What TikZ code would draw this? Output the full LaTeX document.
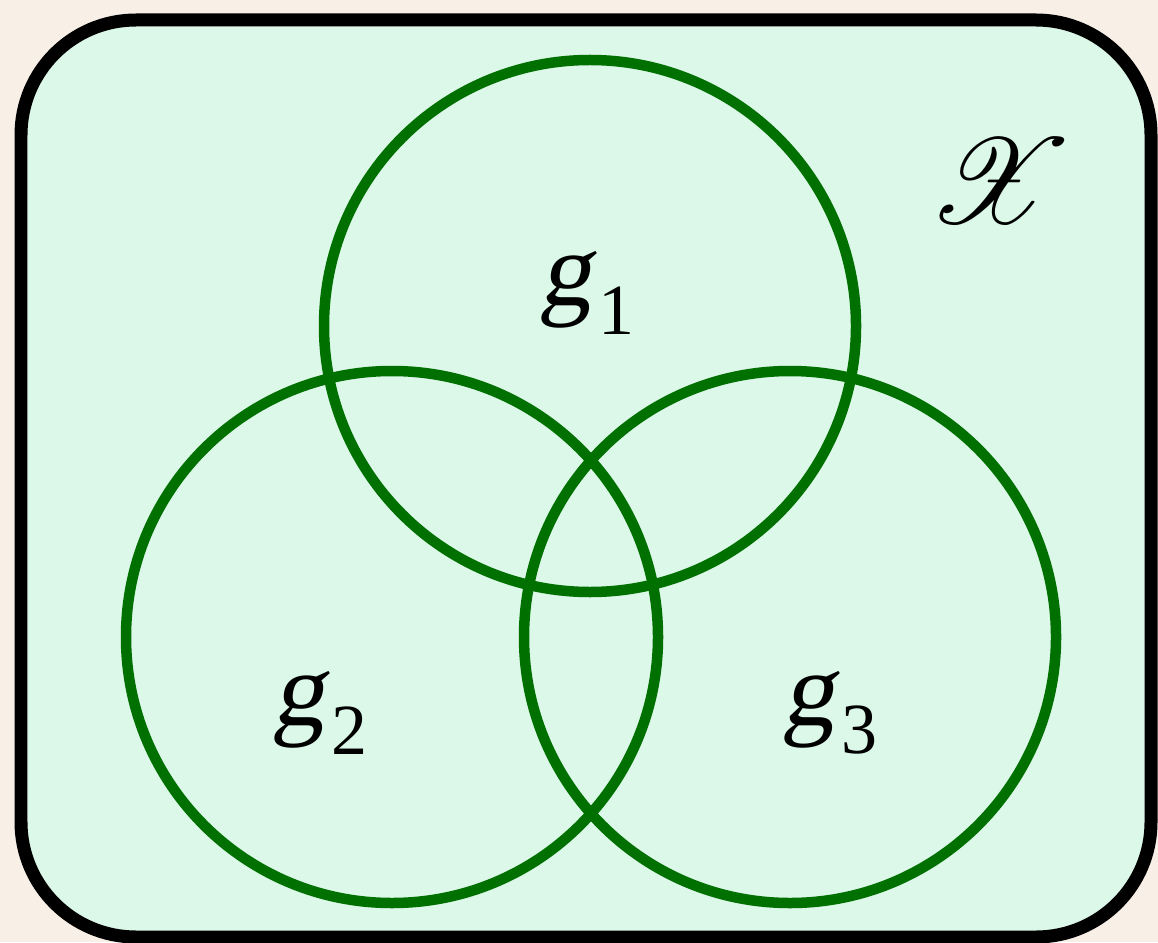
\documentclass[tikz,border=0pt]{standalone}
\usepackage{fontspec}
\usepackage{mathrsfs}
\usepackage{graphicx}
\setmainfont{Liberation Serif}
\newfontfamily\gfont{Liberation Serif}[FakeSlant=0.18]
\definecolor{bgc}{HTML}{F8EFE7}
\definecolor{boxfill}{HTML}{DCF8E8}
\definecolor{ringc}{HTML}{007000}
\tikzset{
  ring/.style={draw=ringc, line width=0.21cm},
  setlabel/.style={inner sep=0pt, font=\fontsize{60}{60}\selectfont},
}
\newcommand{\gsub}[1]{{\gfont g}\kern 4pt\raisebox{-0.27em}{\fontsize{41}{41}\selectfont #1}}
\begin{document}
\begin{tikzpicture}[x=0.02cm,y=-0.02cm]
\fill[bgc] (0,0) rectangle (1158,942);
\useasboundingbox (0,0) rectangle (1158,942);
\draw[line width=0.26cm, fill=boxfill, rounded corners=2.3cm] (21,20) rectangle (1151,937);
\draw[ring] (590,326) circle[radius=266];
\draw[ring] (392,637) circle[radius=266];
\draw[ring] (790,637) circle[radius=266];
\node[setlabel] (g1) at (587,293) {\gsub{1}};
\node[setlabel] (g2) at (320,713) {\gsub{2}};
\node[setlabel] (g3) at (830,713) {\gsub{3}};
\node[inner sep=0pt] (X) at (1000,181) {\scalebox{6.9}{$\mathscr{X}$}};
\end{tikzpicture}
\end{document}
